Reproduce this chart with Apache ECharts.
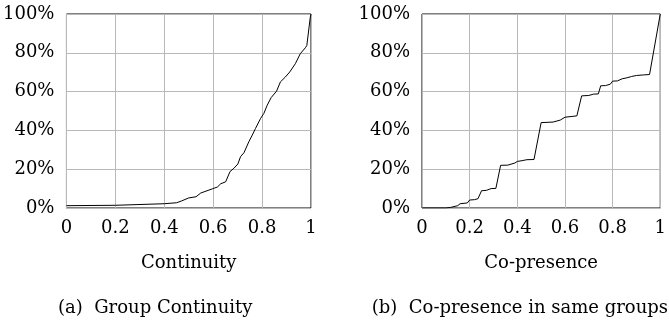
<!DOCTYPE html>
<html>
<head>
<meta charset="utf-8">
<script src="https://cdn.jsdelivr.net/npm/echarts@6/dist/echarts.min.js"></script>
<style>
  html, body { margin: 0; padding: 0; background: #fff; }
  #chart { width: 669px; height: 330px; }
</style>
</head>
<body>
<div id="chart"></div>
<script>
// Cumulative distribution of group continuity
const continuityX   = [0, 0.2, 0.4, 0.45, 0.47, 0.5, 0.53, 0.549, 0.597, 0.617, 0.631, 0.651, 0.658, 0.669, 0.685, 0.701, 0.712, 0.726, 0.746, 0.76, 0.773, 0.794, 0.807, 0.821, 0.837, 0.859, 0.875, 0.895, 0.913, 0.936, 0.956, 0.977, 0.983, 0.997, 1.0];
const continuityCdf = [1.2, 1.4, 2.2, 2.7, 3.6, 5.2, 5.8, 7.7, 9.9, 10.8, 12.5, 13.5, 14.5, 18.8, 20.5, 22.7, 26.5, 28.5, 34.2, 37.6, 41, 46.2, 48.7, 53, 56.9, 60.2, 65, 67.5, 70.1, 74.4, 79.5, 82.6, 83.8, 98.3, 100];

// Cumulative distribution of co-presence in the same groups
const copresenceX   = [0, 0.1, 0.12, 0.15, 0.16, 0.19, 0.2, 0.22, 0.235, 0.25, 0.27, 0.29, 0.31, 0.33, 0.36, 0.39, 0.4, 0.42, 0.44, 0.47, 0.5, 0.55, 0.58, 0.6, 0.63, 0.65, 0.67, 0.7, 0.72, 0.74, 0.75, 0.77, 0.79, 0.8, 0.82, 0.84, 0.86, 0.88, 0.9, 0.93, 0.955, 1.0];
const copresenceCdf = [0, 0, 0.3, 1.2, 2.2, 2.6, 4.1, 4.3, 4.8, 8.9, 9.1, 10, 10.1, 22, 22.1, 23.2, 24, 24.4, 24.9, 25, 44, 44.3, 45.3, 46.8, 47.2, 47.5, 57.8, 58, 58.7, 58.8, 63, 63.1, 63.8, 65.4, 65.5, 66.6, 67.1, 67.8, 68.3, 68.6, 68.8, 100];

const xTicks = [0, 0.2, 0.4, 0.6, 0.8, 1];
const yTicks = [0, 20, 40, 60, 80, 100];
const xNames = ['Continuity', 'Co-presence'];
const captions = ['(a)  Group Continuity', '(b)  Co-presence in same groups'];

const FONT = 'DejaVu Serif';
const pair = (xs, ys) => xs.map((x, i) => [x, ys[i]]);

const grids = [
  { left: 65, top: 14, width: 246, height: 194 },
  { left: 422, top: 14, width: 245, height: 194 }
];

function xAxisFor(i) {
  return {
    type: 'value', gridIndex: i, min: xTicks[0], max: xTicks[xTicks.length - 1], interval: 0.2,
    name: xNames[i], nameLocation: 'middle', nameGap: 46,
    nameTextStyle: { fontFamily: FONT, fontSize: 18, color: '#000' },
    axisLine: { show: false }, axisTick: { show: false },
    axisLabel: {
      margin: 11, fontFamily: FONT, fontSize: 18, color: '#000',
      formatter: v => (v === 0 ? '0' : v === 1 ? '1' : String(+v.toFixed(1)))
    },
    splitLine: { show: true, lineStyle: { color: '#b8b8b8', width: 1 } }
  };
}
function yAxisFor(i) {
  return {
    type: 'value', gridIndex: i, min: yTicks[0], max: yTicks[yTicks.length - 1], interval: 20,
    axisLine: { show: false }, axisTick: { show: false },
    axisLabel: { margin: 12, fontFamily: FONT, fontSize: 18, color: '#000', formatter: '{value}%' },
    splitLine: { show: true, lineStyle: { color: '#b8b8b8', width: 1 } }
  };
}

const chart = echarts.init(document.getElementById('chart'), null, { renderer: 'canvas' });
chart.setOption({
  animation: false,
  backgroundColor: '#fff',
  grid: grids.map(g => Object.assign({ show: true, borderColor: '#000', borderWidth: 1, backgroundColor: 'transparent' }, g)),
  xAxis: [xAxisFor(0), xAxisFor(1)],
  yAxis: [yAxisFor(0), yAxisFor(1)],
  series: [
    { type: 'line', xAxisIndex: 0, yAxisIndex: 0, data: pair(continuityX, continuityCdf),
      showSymbol: false, lineStyle: { color: '#000', width: 1 }, z: 5 },
    { type: 'line', xAxisIndex: 1, yAxisIndex: 1, data: pair(copresenceX, copresenceCdf),
      showSymbol: false, lineStyle: { color: '#000', width: 1 }, z: 5 }
  ],
  graphic: [
    { type: 'text', left: 58, top: 299, style: { text: captions[0], font: '18px "' + FONT + '"', fill: '#000' } },
    { type: 'text', right: 1, top: 299, style: { text: captions[1], font: '18px "' + FONT + '"', fill: '#000' } }
  ]
});
</script>
</body>
</html>
